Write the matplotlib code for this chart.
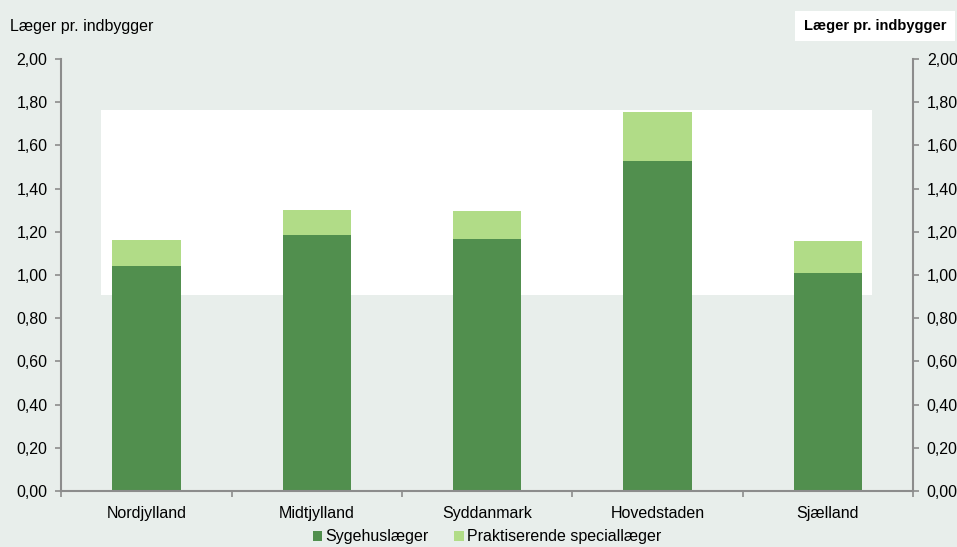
import matplotlib
matplotlib.use("Agg")
import matplotlib.pyplot as plt
from matplotlib.patches import Rectangle
from matplotlib.ticker import FuncFormatter, MultipleLocator
import numpy as np

regioner = ["Nordjylland", "Midtjylland", "Syddanmark", "Hovedstaden", "Sjælland"]
sygehuslaeger = [1.04, 1.185, 1.165, 1.526, 1.01]
praktiserende = [0.123, 0.118, 0.13, 0.228, 0.147]

bg = "#e8eeeb"
spine_col = "#8c8c8c"
plt.rcParams['font.family'] = ['Liberation Sans', 'DejaVu Sans']
fs = 11.5

fig = plt.figure(figsize=(9.57, 5.47), dpi=100, facecolor=bg)
ax = fig.add_axes([0.0641, 0.1024, 0.8899, 0.7896])
ax.set_facecolor(bg)

# hvid boks bag søjlerne
ax.add_patch(Rectangle((0.0466, 0.454), 0.905, 0.428, transform=ax.transAxes,
                       facecolor="white", edgecolor="none", zorder=0))

x = np.arange(len(regioner))
ax.bar(x, sygehuslaeger, width=0.4, color="#518f4e", label="Sygehuslæger", zorder=2)
ax.bar(x, praktiserende, width=0.4, bottom=sygehuslaeger, color="#b1dc87",
       label="Praktiserende speciallæger", zorder=2)

ax.set_xlim(-0.5, len(regioner) - 0.5)
ax.set_ylim(0, 2.0)
ax.yaxis.set_major_locator(MultipleLocator(0.2))
ax.yaxis.set_major_formatter(FuncFormatter(lambda v, p: f"{v:.2f}".replace(".", ",")))
ax.set_xticks(x)
ax.set_xticklabels(regioner, fontsize=fs)
ax.set_xticks(np.arange(-0.5, len(regioner)), minor=True)
ax.tick_params(axis="x", which="major", length=0, pad=11)
ax.tick_params(axis="x", which="minor", length=4, color=spine_col, width=1.2, direction="out")
ax.tick_params(axis="y", which="major", length=4, color=spine_col, width=1.2, labelsize=fs,
               left=True, right=True, labelleft=True, labelright=True, pad=6)

for s in ["left", "right", "bottom"]:
    ax.spines[s].set_color(spine_col)
    ax.spines[s].set_linewidth(1.5)
ax.spines["top"].set_visible(False)

fig.text(10 / 957, 1 - 27 / 547, "Læger pr. indbygger", fontsize=fs, va="center", ha="left")
fig.text(875 / 957, 1 - 26 / 547, "Læger pr. indbygger", fontsize=10.5, fontweight="bold",
         va="center", ha="center",
         bbox=dict(facecolor="white", edgecolor="none", pad=6))

fig.legend(loc="center", bbox_to_anchor=(487 / 957, 1 - 537 / 547), ncol=2, frameon=False,
           fontsize=fs, handlelength=0.6, handleheight=0.6, handletextpad=0.2,
           columnspacing=1.6, borderaxespad=0)

fig.savefig("out.png", dpi=100, facecolor=bg)
